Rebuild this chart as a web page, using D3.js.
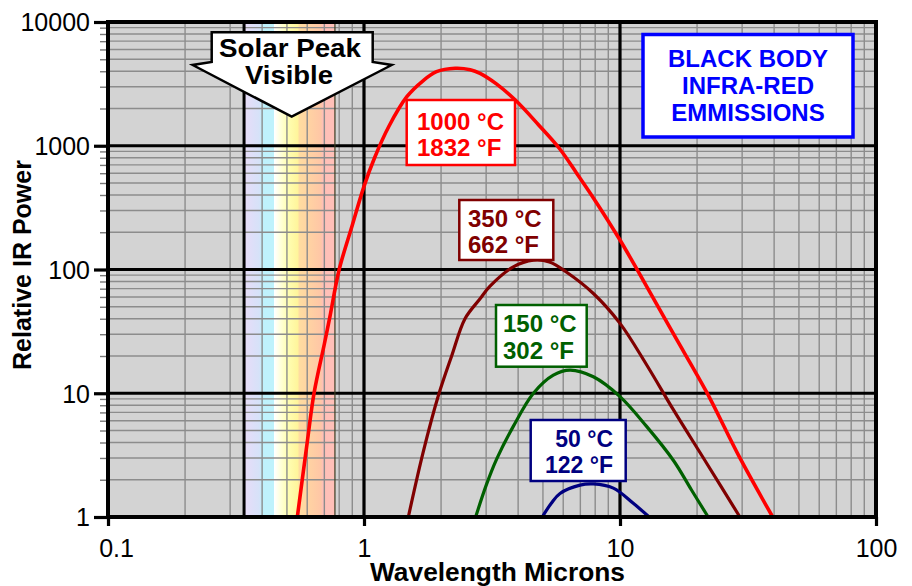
<!DOCTYPE html>
<html>
<head>
<meta charset="utf-8">
<script src="https://cdn.jsdelivr.net/npm/d3@7"></script>
<style>
  html, body { margin: 0; padding: 0; background: #ffffff; }
  svg { display: block; }
  text { font-family: "Liberation Sans", Arial, Helvetica, sans-serif; }
</style>
</head>
<body>
<svg id="chart" width="912" height="586"></svg>
<script>
// ---------------- DATA ----------------
const xTicks = [0.1, 1, 10, 100];
const xTickLabels = ["0.1", "1", "10", "100"];
const yTicks = [1, 10, 100, 1000, 10000];
const yTickLabels = ["1", "10", "100", "1000", "10000"];

// wavelength (microns), relative power
const curve1000C = [[0.549,1],[0.60,4],[0.638,10],[0.70,25],[0.736,41.6],[0.80,100],[0.90,228],[1.0,470],[1.1,800],[1.25,1430],[1.47,2490],[1.7,3350],[1.92,3970],[2.27,4230],[2.6,4120],[2.84,3850],[3.3,3150],[3.9,2340],[4.8,1480],[5.8,950],[6.77,600],[8,360],[10,173],[12,90],[16.2,30],[21.8,10.2],[29.4,3.0],[39.5,1]];
const curve350C = [[1.49,1],[1.7,3.3],[1.95,9.5],[2.2,20],[2.48,40],[2.84,58],[3.1,73],[3.83,105],[4.59,119],[5.3,115],[6.19,95],[7.87,64],[10,36.7],[12.7,17],[16.2,7.3],[21.8,2.72],[29.4,1]];
const curve150C = [[2.73,1],[3.0,1.8],[3.30,2.95],[3.83,5.4],[4.59,10],[5.49,14],[6.38,15.4],[7.87,13.6],[10,9.4],[12.7,5.4],[16.2,2.85],[19,1.66],[22.1,1]];
const curve50C = [[4.97,1],[5.4,1.3],[5.83,1.55],[6.98,1.81],[7.87,1.85],[9.42,1.71],[11.27,1.29],[13.0,1]];

const seriesCurves = [curve1000C, curve350C, curve150C, curve50C];
const seriesC = ["1000 °C", "350 °C", "150 °C", "50 °C"];
const seriesF = ["1832 °F", "662 °F", "302 °F", "122 °F"];
const seriesColors = ["#ff0000", "#800000", "#006000", "#000080"];

// visible band (wavelength stops, colours)
const bandStart = 0.34, bandEnd = 0.77;
const bandStopWl = [0.34, 0.39, 0.40, 0.445, 0.447, 0.50, 0.55, 0.56, 0.68, 0.69, 0.77];
const bandStopColors = ["#e8dcf8", "#d6e2f8", "#bff2fc", "#bff2fc", "#ffffff", "#ffffb4", "#fff59c", "#ffdca0", "#ffc6a6", "#ffc0b8", "#ffc0b8"];

const titleLines = ["BLACK BODY", "INFRA-RED", "EMMISSIONS"];
const arrowLines = ["Solar Peak", "Visible"];
const xTitle = "Wavelength Microns";
const yTitle = "Relative IR Power";

// ---------------- LAYOUT ----------------
const L = 108, R = 876, T = 22, B = 517;
const svg = d3.select("#chart");
const x = d3.scaleLog().domain([0.1, 100]).range([L, R]);
const y = d3.scaleLog().domain([1, 10000]).range([B, T]);

// plot background
svg.append("rect").attr("x", L).attr("y", T).attr("width", R - L).attr("height", B - T).attr("fill", "#d3d3d3");

// visible band gradient
const defs = svg.append("defs");
const grad = defs.append("linearGradient").attr("id", "vis")
  .attr("gradientUnits", "userSpaceOnUse")
  .attr("x1", x(bandStart)).attr("x2", x(bandEnd)).attr("y1", 0).attr("y2", 0);
bandStopWl.forEach((w, i) => {
  grad.append("stop").attr("offset", (x(w) - x(bandStart)) / (x(bandEnd) - x(bandStart)))
    .attr("stop-color", bandStopColors[i]);
});
svg.append("rect").attr("x", x(bandStart)).attr("y", T).attr("width", x(bandEnd) - x(bandStart))
  .attr("height", B - T).attr("fill", "url(#vis)");

// minor values
const minorX = [], minorY = [];
[0.1, 1, 10].forEach(d => { for (let k = 2; k <= 9; k++) minorX.push(d * k); });
[1, 10, 100, 1000].forEach(d => { for (let k = 2; k <= 9; k++) minorY.push(d * k); });

const grid = svg.append("g");
grid.selectAll("line.mx").data(minorX).join("line")
  .attr("x1", d => x(d)).attr("x2", d => x(d)).attr("y1", T).attr("y2", B)
  .attr("stroke", "#8c8c8c").attr("stroke-width", 1.4);
grid.selectAll("line.my").data(minorY).join("line")
  .attr("x1", L).attr("x2", R).attr("y1", d => y(d)).attr("y2", d => y(d))
  .attr("stroke", "#8c8c8c").attr("stroke-width", 1.4);

// band edge lines
svg.append("line").attr("x1", x(bandStart)).attr("x2", x(bandStart)).attr("y1", T).attr("y2", B)
  .attr("stroke", "#000").attr("stroke-width", 3);
svg.append("line").attr("x1", x(bandEnd)).attr("x2", x(bandEnd)).attr("y1", T).attr("y2", B)
  .attr("stroke", "#3a3a20").attr("stroke-width", 1.2);

// major grid
grid.selectAll("line.Mx").data(xTicks.slice(1, -1)).join("line")
  .attr("x1", d => x(d)).attr("x2", d => x(d)).attr("y1", T).attr("y2", B)
  .attr("stroke", "#000").attr("stroke-width", 3.2);
grid.selectAll("line.My").data(yTicks.slice(1, -1)).join("line")
  .attr("x1", L).attr("x2", R).attr("y1", d => y(d)).attr("y2", d => y(d))
  .attr("stroke", "#000").attr("stroke-width", 3.2);

// y axis ticks
const yAxisMinor = d3.axisLeft(y).tickValues(minorY).tickSize(8).tickFormat("");
const gyMinor = svg.append("g").attr("transform", `translate(${L},0)`).call(yAxisMinor);
gyMinor.select(".domain").remove();
gyMinor.selectAll(".tick line").attr("stroke", "#777").attr("stroke-width", 1.4);

const yAxis = d3.axisLeft(y).tickValues(yTicks).tickSize(14).tickPadding(4)
  .tickFormat((d, i) => yTickLabels[i]);
const gy = svg.append("g").attr("transform", `translate(${L},0)`).call(yAxis);
gy.select(".domain").remove();
gy.selectAll(".tick line").attr("stroke", "#000").attr("stroke-width", 3.2);
gy.selectAll(".tick text").attr("font-size", 25).attr("fill", "#000")
  .attr("font-family", "Liberation Sans, Arial, sans-serif").attr("dy", "0.35em");

// x axis ticks
const xAxis = d3.axisBottom(x).tickValues(xTicks).tickSize(9).tickPadding(13)
  .tickFormat((d, i) => xTickLabels[i]);
const gx = svg.append("g").attr("transform", `translate(0,${B})`).call(xAxis);
gx.select(".domain").remove();
gx.selectAll(".tick line").attr("stroke", "#000").attr("stroke-width", 3.2);
gx.selectAll(".tick text").attr("font-size", 25).attr("fill", "#000")
  .attr("font-family", "Liberation Sans, Arial, sans-serif")
  .attr("dx", (d, i) => i === 0 ? 8 : 0);

// curves
const line = d3.line().x(d => x(d[0])).y(d => y(d[1])).curve(d3.curveCatmullRom.alpha(0.5));
svg.append("g").selectAll("path").data(seriesCurves).join("path")
  .attr("d", line).attr("fill", "none")
  .attr("stroke", (d, i) => seriesColors[i])
  .attr("stroke-width", (d, i) => i === 0 ? 3.6 : 3.2)
  .attr("stroke-linejoin", "round");

// frame
svg.append("rect").attr("x", L).attr("y", T).attr("width", R - L).attr("height", B - T)
  .attr("fill", "none").attr("stroke", "#000").attr("stroke-width", 4);

// Solar peak arrow
const arrowPts = [[211.7,32.3],[372.7,32.3],[372.7,62],[391.7,65],[291.7,116.7],[192.7,65],[211.7,62]];
svg.append("polygon").attr("points", arrowPts.map(p => p.join(",")).join(" "))
  .attr("fill", "#fff").attr("stroke", "#000").attr("stroke-width", 2.5).attr("stroke-linejoin", "miter");
svg.append("text").attr("x", 290).attr("y", 57).attr("text-anchor", "middle")
  .attr("font-size", 25).attr("font-weight", "bold").attr("textLength", 142).attr("lengthAdjust", "spacingAndGlyphs")
  .text(arrowLines[0]);
svg.append("text").attr("x", 289).attr("y", 84).attr("text-anchor", "middle")
  .attr("font-size", 25).attr("font-weight", "bold").attr("textLength", 88).attr("lengthAdjust", "spacingAndGlyphs")
  .text(arrowLines[1]);

// title box
svg.append("rect").attr("x", 643).attr("y", 34.5).attr("width", 210).attr("height", 102.5)
  .attr("fill", "#fff").attr("stroke", "#0000ff").attr("stroke-width", 3.5);
svg.append("g").selectAll("text").data(titleLines).join("text")
  .attr("x", 748).attr("y", (d, i) => 67 + i * 27).attr("text-anchor", "middle")
  .attr("font-size", 24).attr("font-weight", "bold").attr("fill", "#0000ff").text(d => d);

// series label boxes
const boxes = [
  { x: 406.7, y: 100, w: 108.3, h: 65, tx: 417, anchor: "start", b1: 130, b2: 156, fs: 24 },
  { x: 459.3, y: 200, w: 94, h: 60, tx: 468, anchor: "start", b1: 227, b2: 253, fs: 24 },
  { x: 496, y: 305, w: 90.7, h: 61.7, tx: 503, anchor: "start", b1: 332, b2: 359, fs: 24 },
  { x: 530.7, y: 420, w: 95, h: 61, tx: 613, anchor: "end", b1: 447, b2: 473, fs: 23 }
];
boxes.forEach((b, i) => {
  const g = svg.append("g");
  g.append("rect").attr("x", b.x).attr("y", b.y).attr("width", b.w).attr("height", b.h)
    .attr("fill", "#fff").attr("stroke", seriesColors[i]).attr("stroke-width", 2.5);
  g.append("text").attr("x", b.tx).attr("y", b.b1).attr("text-anchor", b.anchor)
    .attr("font-size", b.fs).attr("font-weight", "bold").attr("fill", seriesColors[i]).text(seriesC[i]);
  g.append("text").attr("x", b.tx).attr("y", b.b2).attr("text-anchor", b.anchor)
    .attr("font-size", b.fs).attr("font-weight", "bold").attr("fill", seriesColors[i]).text(seriesF[i]);
});

// axis titles
svg.append("text").attr("x", 497.5).attr("y", 581).attr("text-anchor", "middle")
  .attr("font-size", 25).attr("font-weight", "bold").attr("textLength", 255).attr("lengthAdjust", "spacingAndGlyphs")
  .text(xTitle);
svg.append("text").attr("transform", "translate(31,265) rotate(-90)").attr("text-anchor", "middle")
  .attr("font-size", 25).attr("font-weight", "bold").attr("textLength", 210).attr("lengthAdjust", "spacingAndGlyphs")
  .text(yTitle);
</script>
</body>
</html>
